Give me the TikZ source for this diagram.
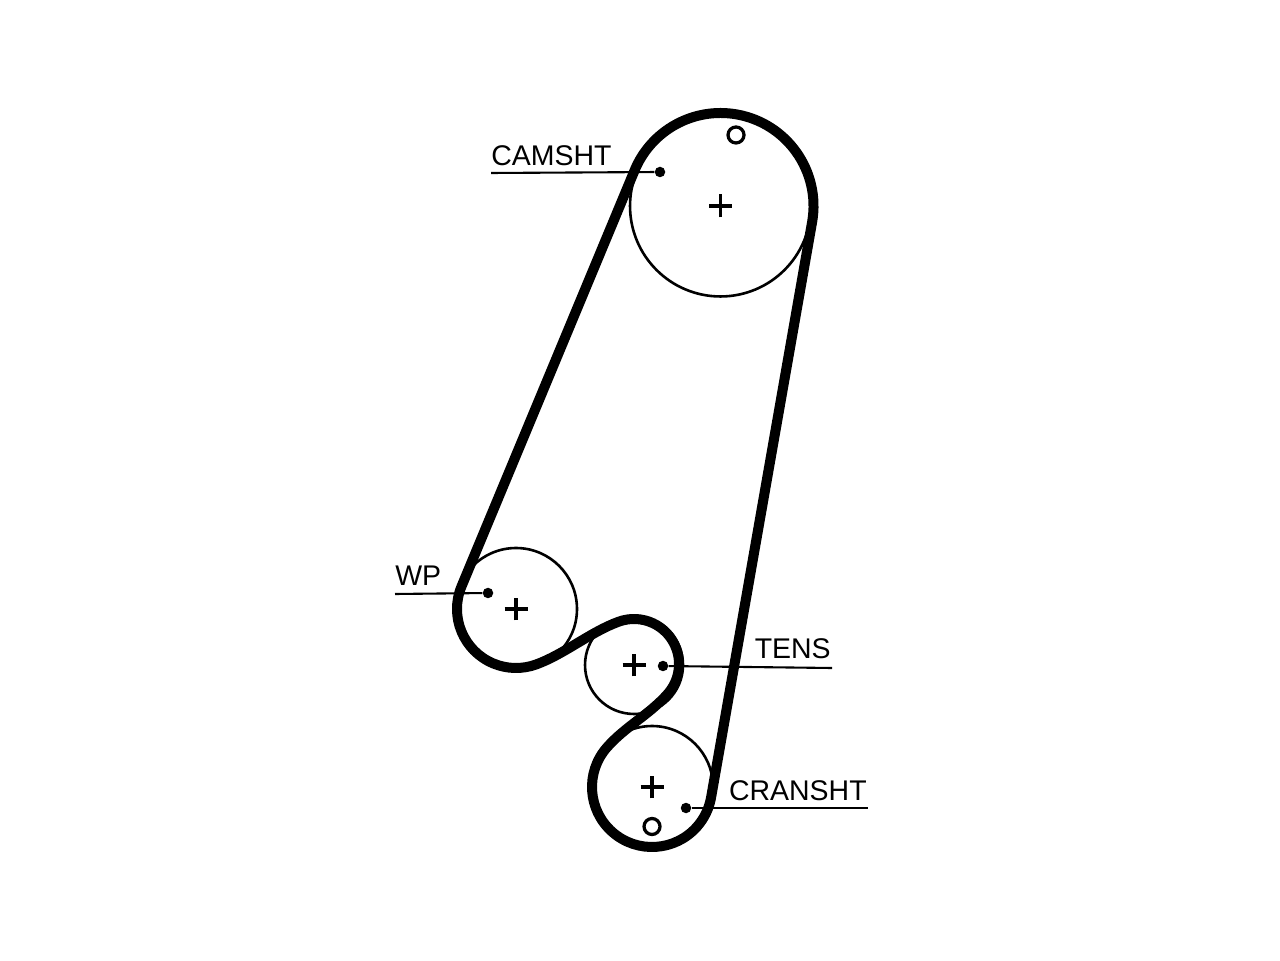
\documentclass[tikz,border=0pt]{standalone}
\usepackage{fontspec}
\setmainfont{Liberation Sans}
\usetikzlibrary{positioning}

\tikzset{
	pulley/.style={draw, circle, inner sep=0pt, line width=0.052cm},
	hole/.style={draw, circle, inner sep=0pt, minimum size=0.32cm, line width=0.065cm},
	leaderdot/.style={fill, circle, inner sep=0pt, minimum size=0.21cm},
	leader/.style={line width=0.042cm},
	partname/.style={inner sep=0pt, text depth=0pt, font=\fontsize{16.2}{18}\selectfont},
	belt/.style={line width=0.2cm, line join=round},
}

\begin{document}
\begin{tikzpicture}[x=0.02cm, y=0.02cm]

\useasboundingbox (0,0) rectangle (1280,960);

% Camshaft
\node [pulley,
	minimum size=3.62cm
] at (720.5,754) (cam) {};
\node [hole] at (736,825) (cam_hole) {};
\node [leaderdot] at (660,788) (cam_dot) {};
\coordinate (cam_end) at (491,787);
\node [partname,
	above right=0.14cm and 0cm of cam_end
] (cam_name) {CAMSHT};

% Water pump
\node [pulley,
	minimum size=2.44cm
] at (516,351) (wp) {};
\node [leaderdot] at (488,367) (wp_dot) {};
\coordinate (wp_end) at (395,366);
\node [partname,
	above right=0.16cm and 0cm of wp_end
] (wp_name) {WP};

% Tensioner
\node [pulley,
	minimum size=1.96cm
] at (634,295) (tens) {};
\coordinate (tens_belt) at (634,296);
\node [leaderdot] at (663,294) (tens_dot) {};
\coordinate (tens_end) at (832,292);
\node [partname,
	above left=0.19cm and 0.02cm of tens_end
] (tens_name) {TENS};

% Crankshaft
\node [pulley,
	minimum size=2.44cm
] at (652,173) (crank) {};
\node [hole] at (652,133.5) (crank_hole) {};
\node [leaderdot] at (686,152) (crank_dot) {};
\coordinate (crank_end) at (868,152);
\node [partname,
	above left=0.14cm and 0.02cm of crank_end
] (crank_name) {CRANSHT};

% Centre marks
\foreach \p in {cam,wp,tens,crank} {
	\draw[line width=0.07cm] ([xshift=-0.23cm] \p.center) -- ([xshift=0.23cm] \p.center);
	\draw[line width=0.07cm] ([yshift=-0.23cm] \p.center) -- ([yshift=0.23cm] \p.center);
}

% Leader lines
\draw[leader] (cam_dot) -- (cam_end);
\draw[leader] (wp_dot) -- (wp_end);
\draw[leader] (tens_dot) -- (tens_end);
\draw[leader] (crank_dot) -- (crank_end);

% Belt
\draw[belt] ([shift={(157.48:93)}] cam.center)
	-- ([shift={(157.48:59)}] wp.center)
	arc[start angle=157.48, end angle=290.03, radius=59]
	.. controls +(20.03:30) and +(200.03:30) .. ([shift={(110.03:45)}] tens_belt)
	arc[start angle=110.03, end angle=-41.31, radius=45]
	.. controls +(-131.31:28) and +(48.69:28) .. ([shift={(138.69:60)}] crank.center)
	arc[start angle=138.69, end angle=350.09, radius=60]
	-- ([shift={(-9.91:93)}] cam.center)
	arc[start angle=-9.91, end angle=157.48, radius=93]
	-- cycle;

\end{tikzpicture}
\end{document}
